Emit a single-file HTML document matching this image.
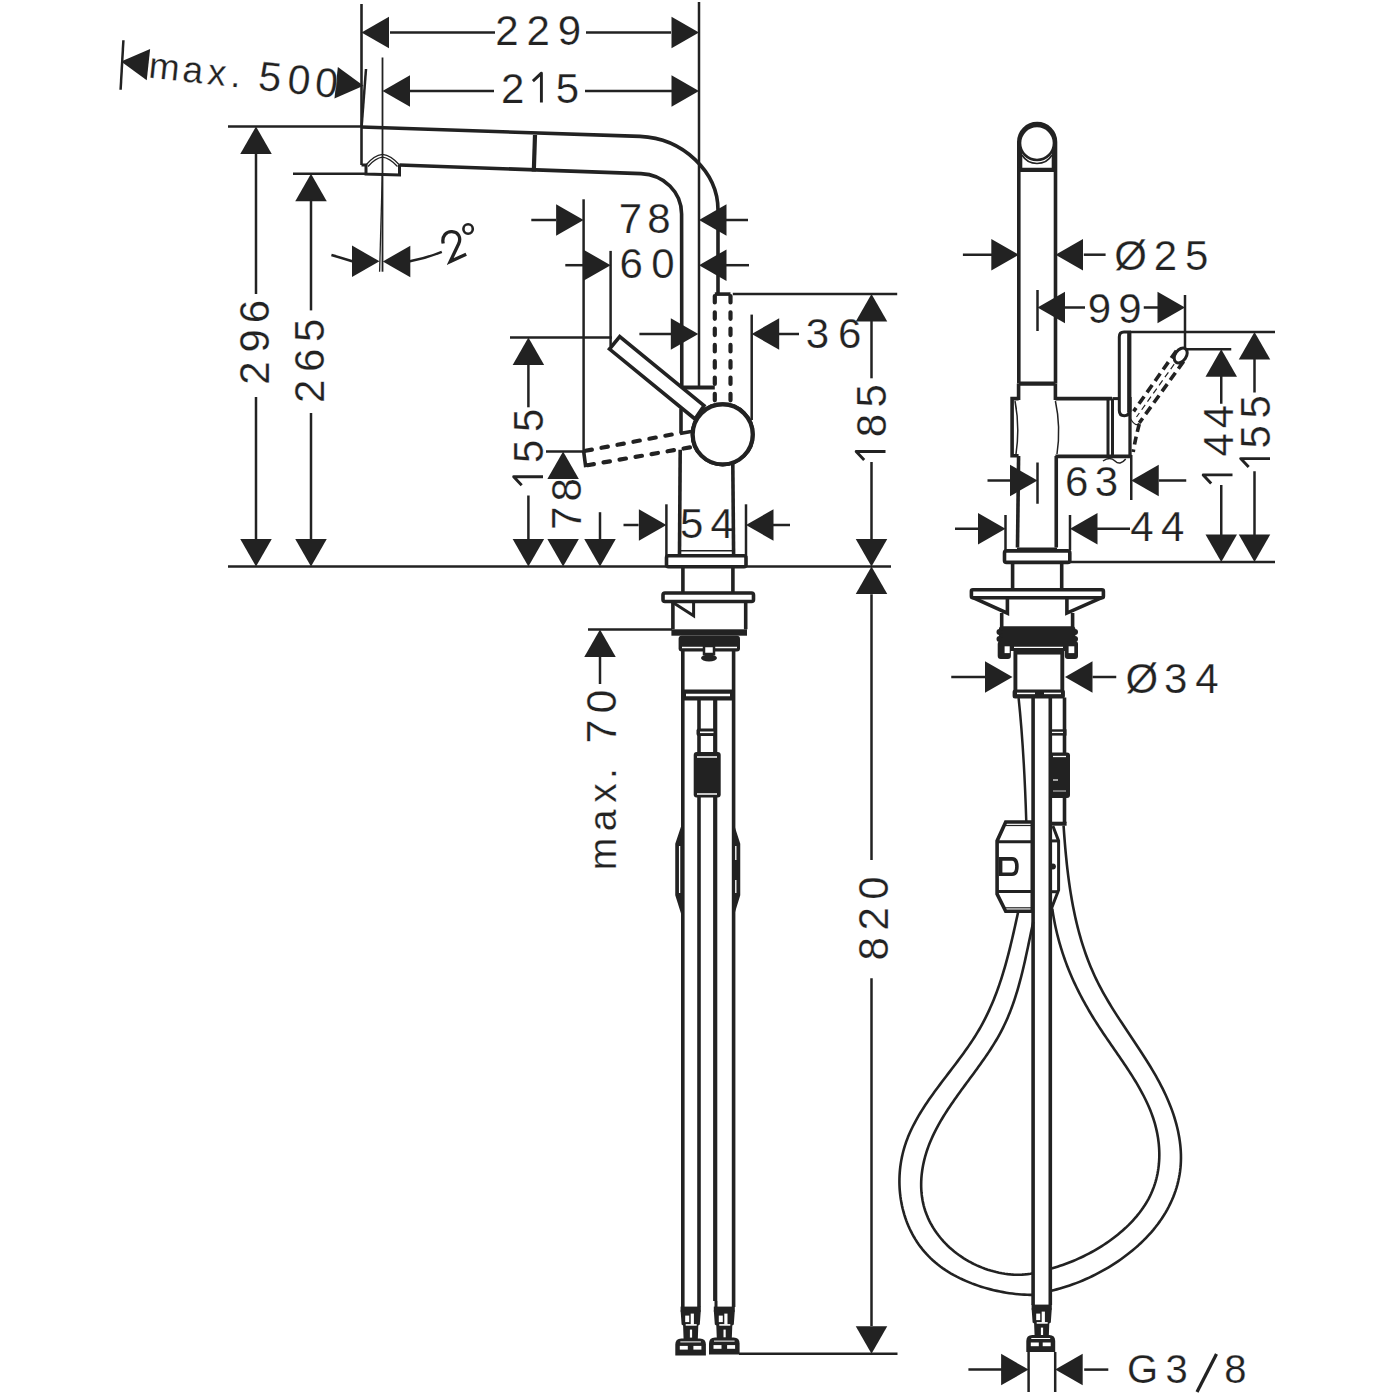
<!DOCTYPE html>
<html><head><meta charset="utf-8"><style>
html,body{margin:0;padding:0;background:#fff;width:1400px;height:1400px;overflow:hidden}
svg{display:block}
text{font-family:"Liberation Sans",sans-serif;fill:#222;stroke:#fff;stroke-width:0.25px}
</style></head><body>
<svg width="1400" height="1400" viewBox="0 0 1400 1400" stroke="#222" fill="none" stroke-linecap="butt">
<line x1="228.00" y1="566.40" x2="891.00" y2="566.40" stroke-width="2.5"/>
<line x1="361.50" y1="4.00" x2="361.50" y2="165.00" stroke-width="2.6"/>
<line x1="699.00" y1="2.00" x2="699.00" y2="387.00" stroke-width="2.5"/>
<line x1="390.00" y1="32.50" x2="495.00" y2="32.50" stroke-width="2.5"/>
<line x1="586.00" y1="32.50" x2="671.00" y2="32.50" stroke-width="2.5"/>
<polygon points="361.50,32.50 389.00,16.75 389.00,48.25" fill="#222" stroke="none"/>
<polygon points="699.00,32.50 671.50,48.25 671.50,16.75" fill="#222" stroke="none"/>
<text x="506.90" y="44.50" font-size="42" text-anchor="middle">2</text><text x="538.10" y="44.50" font-size="42" text-anchor="middle">2</text><text x="569.40" y="44.50" font-size="42" text-anchor="middle">9</text>
<line x1="382.50" y1="57.50" x2="382.50" y2="271.70" stroke-width="1.8"/>
<line x1="409.00" y1="91.00" x2="494.00" y2="91.00" stroke-width="2.5"/>
<line x1="585.00" y1="91.00" x2="672.00" y2="91.00" stroke-width="2.5"/>
<polygon points="382.50,91.00 410.00,75.25 410.00,106.75" fill="#222" stroke="none"/>
<polygon points="699.00,91.00 671.50,106.75 671.50,75.25" fill="#222" stroke="none"/>
<text x="512.75" y="102.50" font-size="42" text-anchor="middle">2</text><path d="M541.40,102.50 L541.40,73.18 L532.90,81.18" stroke-width="2.9" fill="none" stroke-linejoin="round"/><text x="567.55" y="102.50" font-size="42" text-anchor="middle">5</text>
<line x1="123.40" y1="40.20" x2="120.60" y2="89.80" stroke-width="2.5"/>
<polygon points="121.10,61.60 150.14,48.91 146.74,80.23" fill="#222" stroke="none"/>
<polygon points="363.50,85.70 334.46,98.39 337.86,67.07" fill="#222" stroke="none"/>
<g transform="translate(163,79.2) rotate(6.2)"><text x="0.00" y="0.00" font-size="37" text-anchor="middle">m</text><text x="28.90" y="0.00" font-size="37" text-anchor="middle">a</text><text x="53.10" y="0.00" font-size="37" text-anchor="middle">x</text><text x="72.30" y="0.00" font-size="37" text-anchor="middle">.</text><text x="106.30" y="0.00" font-size="41" text-anchor="middle">5</text><text x="135.30" y="0.00" font-size="41" text-anchor="middle">0</text><text x="163.00" y="0.00" font-size="41" text-anchor="middle">0</text></g>
<line x1="366.00" y1="69.00" x2="361.60" y2="127.00" stroke-width="2.5"/>
<path d="M361.5,127 L640,136.4 C683,138.2 718,172 718,210 L718,294" stroke-width="3.6" fill="none" />
<path d="M399.5,165 L641,173.6 C664,174.6 681.6,192 681.6,214 L681.8,387.5" stroke-width="3.6" fill="none" />
<line x1="535.00" y1="135.00" x2="533.80" y2="171.50" stroke-width="4.2"/>
<path d="M361.5,165 L366,165 L366,174 L399.5,175 L399.5,165" stroke-width="3.0" fill="none" />
<path d="M365.5,165.5 Q374,155 382.5,154.3 Q391,155 400,165.5" stroke-width="1.3" fill="none" />
<path d="M368,166.5 Q375.5,158 382.5,157.2 Q389.5,158 397.5,166.5" stroke-width="1.3" fill="none" />
<line x1="228.00" y1="126.60" x2="361.50" y2="126.60" stroke-width="2.5"/>
<line x1="293.00" y1="173.80" x2="366.00" y2="173.80" stroke-width="2.5"/>
<polygon points="256.00,126.60 271.75,154.10 240.25,154.10" fill="#222" stroke="none"/>
<line x1="256.00" y1="153.00" x2="256.00" y2="294.00" stroke-width="2.5"/>
<g transform="translate(268.70,0) rotate(-90)"><text x="-373.00" y="0" font-size="42" text-anchor="middle">2</text><text x="-340.90" y="0" font-size="42" text-anchor="middle">9</text><text x="-311.64" y="0" font-size="42" text-anchor="middle">6</text></g>
<line x1="256.00" y1="397.00" x2="256.00" y2="540.00" stroke-width="2.5"/>
<polygon points="256.00,566.40 240.25,538.90 271.75,538.90" fill="#222" stroke="none"/>
<polygon points="311.00,173.80 326.75,201.30 295.25,201.30" fill="#222" stroke="none"/>
<line x1="311.00" y1="199.70" x2="311.00" y2="310.40" stroke-width="2.5"/>
<g transform="translate(324.10,0) rotate(-90)"><text x="-391.30" y="0" font-size="42" text-anchor="middle">2</text><text x="-360.44" y="0" font-size="42" text-anchor="middle">6</text><text x="-330.35" y="0" font-size="42" text-anchor="middle">5</text></g>
<line x1="311.00" y1="413.00" x2="311.00" y2="540.00" stroke-width="2.5"/>
<polygon points="311.00,566.40 295.25,538.90 326.75,538.90" fill="#222" stroke="none"/>
<line x1="382.30" y1="174.00" x2="379.60" y2="271.70" stroke-width="1.3"/>
<polygon points="379.50,261.30 352.00,277.05 352.00,245.55" fill="#222" stroke="none"/>
<polygon points="382.80,261.50 410.30,245.75 410.30,277.25" fill="#222" stroke="none"/>
<path d="M331.4,255 Q342,258 352.2,261.3" stroke-width="2.5" fill="none" />
<path d="M409.8,261.3 Q427,258 441.8,251.8" stroke-width="2.5" fill="none" />
<path d="M443.2,243.5 C441.5,236 446.5,231.2 452,231.6 C458.5,232 461.2,237.5 458.8,243.5 L450.2,261.5 L466.2,254.2" stroke-width="3.3" fill="none" />
<circle cx="468.1" cy="229" r="4.7" fill="none" stroke-width="2.6"/>
<line x1="583.60" y1="199.30" x2="583.60" y2="451.00" stroke-width="2.5"/>
<line x1="531.30" y1="220.00" x2="556.00" y2="220.00" stroke-width="2.5"/>
<polygon points="583.60,220.00 556.10,235.75 556.10,204.25" fill="#222" stroke="none"/>
<polygon points="699.00,220.00 726.50,204.25 726.50,235.75" fill="#222" stroke="none"/>
<line x1="724.30" y1="220.00" x2="748.00" y2="220.00" stroke-width="2.5"/>
<text x="630.38" y="233.00" font-size="42" text-anchor="middle">7</text><text x="659.00" y="233.00" font-size="42" text-anchor="middle">8</text>
<line x1="610.60" y1="250.90" x2="610.60" y2="346.00" stroke-width="2.5"/>
<line x1="565.30" y1="265.20" x2="583.00" y2="265.20" stroke-width="2.5"/>
<polygon points="610.60,265.20 583.10,280.95 583.10,249.45" fill="#222" stroke="none"/>
<polygon points="699.00,265.20 726.50,249.45 726.50,280.95" fill="#222" stroke="none"/>
<line x1="725.70" y1="265.20" x2="749.00" y2="265.20" stroke-width="2.5"/>
<text x="631.26" y="278.00" font-size="42" text-anchor="middle">6</text><text x="662.90" y="278.00" font-size="42" text-anchor="middle">0</text>
<line x1="639.40" y1="334.00" x2="672.00" y2="334.00" stroke-width="2.5"/>
<polygon points="698.30,334.00 670.80,349.75 670.80,318.25" fill="#222" stroke="none"/>
<polygon points="751.70,334.00 779.20,318.25 779.20,349.75" fill="#222" stroke="none"/>
<line x1="779.00" y1="334.00" x2="799.00" y2="334.00" stroke-width="2.5"/>
<line x1="751.70" y1="314.60" x2="751.70" y2="420.00" stroke-width="2.5"/>
<text x="817.33" y="348.00" font-size="42" text-anchor="middle">3</text><text x="849.76" y="348.00" font-size="42" text-anchor="middle">6</text>
<line x1="510.00" y1="337.60" x2="612.00" y2="337.60" stroke-width="2.5"/>
<polygon points="528.40,337.60 544.15,365.10 512.65,365.10" fill="#222" stroke="none"/>
<line x1="528.40" y1="363.60" x2="528.40" y2="407.30" stroke-width="2.5"/>
<g transform="translate(543.00,0) rotate(-90)"><path d="M-476.80,0.00 L-476.80,-29.32 L-485.30,-21.32" stroke-width="2.9" fill="none" stroke-linejoin="round"/><text x="-451.35" y="0" font-size="42" text-anchor="middle">5</text><text x="-420.25" y="0" font-size="42" text-anchor="middle">5</text></g>
<line x1="528.40" y1="495.50" x2="528.40" y2="540.00" stroke-width="2.5"/>
<polygon points="528.40,566.40 512.65,538.90 544.15,538.90" fill="#222" stroke="none"/>
<line x1="546.00" y1="451.40" x2="584.00" y2="451.40" stroke-width="2.5"/>
<polygon points="563.10,451.40 578.85,478.90 547.35,478.90" fill="#222" stroke="none"/>
<polygon points="563.10,566.40 547.35,538.90 578.85,538.90" fill="#222" stroke="none"/>
<g transform="translate(580.80,0) rotate(-90)"><text x="-518.22" y="0" font-size="42" text-anchor="middle">7</text><text x="-489.90" y="0" font-size="42" text-anchor="middle">8</text></g>
<line x1="600.00" y1="512.20" x2="600.00" y2="540.00" stroke-width="2.5"/>
<polygon points="600.00,566.40 584.25,538.90 615.75,538.90" fill="#222" stroke="none"/>
<polygon points="600.00,629.60 615.75,657.10 584.25,657.10" fill="#222" stroke="none"/>
<line x1="600.00" y1="656.00" x2="600.00" y2="684.00" stroke-width="2.5"/>
<line x1="588.00" y1="629.60" x2="672.00" y2="629.60" stroke-width="2.5"/>
<g transform="translate(616,854) rotate(-90)"><text x="0.00" y="0.00" font-size="39" text-anchor="middle">m</text><text x="33.50" y="0.00" font-size="39" text-anchor="middle">a</text><text x="61.00" y="0.00" font-size="39" text-anchor="middle">x</text><text x="80.50" y="0.00" font-size="39" text-anchor="middle">.</text><text x="122.50" y="0.00" font-size="43" text-anchor="middle">7</text><text x="152.50" y="0.00" font-size="43" text-anchor="middle">0</text></g>
<line x1="732.80" y1="294.10" x2="897.20" y2="294.10" stroke-width="2.5"/>
<polygon points="871.50,294.10 887.25,321.60 855.75,321.60" fill="#222" stroke="none"/>
<line x1="871.50" y1="320.00" x2="871.50" y2="378.30" stroke-width="2.5"/>
<g transform="translate(885.50,0) rotate(-90)"><path d="M-451.50,0.00 L-451.50,-29.32 L-460.00,-21.32" stroke-width="2.9" fill="none" stroke-linejoin="round"/><text x="-425.60" y="0" font-size="42" text-anchor="middle">8</text><text x="-395.85" y="0" font-size="42" text-anchor="middle">5</text></g>
<line x1="871.50" y1="462.00" x2="871.50" y2="541.00" stroke-width="2.5"/>
<polygon points="871.50,566.40 855.75,538.90 887.25,538.90" fill="#222" stroke="none"/>
<polygon points="871.50,566.40 887.25,593.90 855.75,593.90" fill="#222" stroke="none"/>
<line x1="871.50" y1="594.30" x2="871.50" y2="860.00" stroke-width="2.5"/>
<g transform="translate(887.70,0) rotate(-90)"><text x="-948.90" y="0" font-size="42" text-anchor="middle">8</text><text x="-918.90" y="0" font-size="42" text-anchor="middle">2</text><text x="-888.00" y="0" font-size="42" text-anchor="middle">0</text></g>
<line x1="871.50" y1="978.30" x2="871.50" y2="1326.00" stroke-width="2.5"/>
<polygon points="871.50,1353.75 855.75,1326.25 887.25,1326.25" fill="#222" stroke="none"/>
<line x1="739.00" y1="1353.75" x2="897.50" y2="1353.75" stroke-width="2.5"/>
<line x1="666.40" y1="504.30" x2="666.40" y2="557.00" stroke-width="2.5"/>
<line x1="746.00" y1="504.30" x2="746.00" y2="557.00" stroke-width="2.5"/>
<line x1="623.50" y1="525.00" x2="638.60" y2="525.00" stroke-width="2.5"/>
<polygon points="666.40,525.00 638.90,540.75 638.90,509.25" fill="#222" stroke="none"/>
<polygon points="746.00,525.00 773.50,509.25 773.50,540.75" fill="#222" stroke="none"/>
<line x1="772.00" y1="525.00" x2="790.00" y2="525.00" stroke-width="2.5"/>
<text x="691.75" y="538.00" font-size="42" text-anchor="middle">5</text><text x="722.13" y="538.00" font-size="42" text-anchor="middle">4</text>
<line x1="681.80" y1="387.50" x2="714.80" y2="387.50" stroke-width="4.2"/>
<line x1="714.80" y1="294.10" x2="730.50" y2="294.10" stroke-width="3.6"/>
<g stroke-dasharray="6.5 9.8" stroke-linecap="round">
<line x1="714.80" y1="296.00" x2="714.80" y2="404.00" stroke-width="4.2"/>
<line x1="730.50" y1="296.00" x2="730.50" y2="404.00" stroke-width="4.2"/>
</g>
<circle cx="722.7" cy="434.4" r="30" fill="#fff" stroke-width="4.2"/>
<polygon points="619.70,336.60 609.50,349.10 695.00,419.00 704.00,405.70" stroke-width="3.6" fill="#fff" />
<circle cx="722.7" cy="434.4" r="30" fill="#fff" stroke-width="4.2"/>
<polyline points="681.00,408.80 681.00,433.50" stroke-width="3.6" fill="none" />
<g stroke-dasharray="6.5 9.75" stroke-linecap="round">
<line x1="585.50" y1="450.80" x2="675.00" y2="433.90" stroke-width="4.2"/>
<line x1="587.50" y1="465.20" x2="692.90" y2="446.90" stroke-width="4.2"/>
</g>
<line x1="680.00" y1="433.50" x2="691.20" y2="431.60" stroke-width="3.6"/>
<polyline points="583.60,450.80 585.50,465.50 590.00,464.70" stroke-width="3.6" fill="none" />
<line x1="680.20" y1="449.70" x2="679.50" y2="554.00" stroke-width="3.6"/>
<line x1="732.80" y1="464.00" x2="733.60" y2="554.00" stroke-width="3.6"/>
<line x1="680.00" y1="550.70" x2="733.00" y2="550.70" stroke-width="1.5"/>
<rect x="666.5" y="555.7" width="79.5" height="11" rx="2" fill="none" stroke-width="3.6"/>
<line x1="682.90" y1="567.00" x2="682.90" y2="592.90" stroke-width="3.6"/>
<line x1="732.90" y1="567.00" x2="732.90" y2="592.90" stroke-width="3.6"/>
<rect x="663" y="593" width="90.5" height="8.5" rx="2" fill="none" stroke-width="3.6"/>
<line x1="672.90" y1="601.40" x2="672.90" y2="629.30" stroke-width="3.6"/>
<line x1="745.70" y1="601.40" x2="745.70" y2="629.30" stroke-width="3.6"/>
<polyline points="671.40,601.40 693.60,615.70 693.60,601.40" stroke-width="3.0" fill="none" />
<rect x="671.4" y="629.3" width="75.6" height="6.4" fill="#222" stroke="none"/>
<rect x="678.6" y="635.7" width="61.4" height="15.7" rx="3" fill="#222" stroke="none"/>
<line x1="682.00" y1="647.50" x2="737.00" y2="647.50" stroke-width="1.5"/>
<g stroke="#fff">
<line x1="682.00" y1="647.50" x2="737.00" y2="647.50" stroke-width="1.5"/>
</g>
<rect x="704" y="646" width="10" height="8" fill="#fff" stroke="#222" stroke-width="2.5"/>
<ellipse cx="709" cy="658" rx="8" ry="3.5" fill="#222" stroke="none"/>
<line x1="682.80" y1="651.00" x2="682.80" y2="1307.00" stroke-width="3.6"/>
<line x1="733.60" y1="651.00" x2="733.60" y2="1307.00" stroke-width="3.6"/>
<rect x="682" y="689.5" width="52" height="11" fill="#222" stroke="none"/>
<g stroke="#fff">
<line x1="686.00" y1="695.00" x2="730.00" y2="695.00" stroke-width="2.5"/>
</g>
<line x1="699.00" y1="700.00" x2="699.00" y2="1307.00" stroke-width="3.6"/>
<line x1="715.20" y1="700.00" x2="715.20" y2="1301.00" stroke-width="4.2"/>
<line x1="716.00" y1="1301.00" x2="716.00" y2="1307.00" stroke-width="3.0"/>
<rect x="696.5" y="728.5" width="20.5" height="7.5" rx="2" fill="#222" stroke="none"/>
<g stroke="#fff">
<line x1="700.00" y1="732.30" x2="713.50" y2="732.30" stroke-width="1.6"/>
</g>
<rect x="693.7" y="752" width="27" height="45.6" rx="3" fill="#222" stroke="none"/>
<g stroke="#fff">
<line x1="697.00" y1="757.00" x2="717.00" y2="757.00" stroke-width="1.5"/>
<line x1="697.00" y1="794.00" x2="717.00" y2="794.00" stroke-width="1.5"/>
</g>
<polygon points="682.20,827.00 676.50,844.00 676.50,895.00 682.20,913.00" stroke-width="2.5" fill="#222" />
<polygon points="733.50,827.00 739.00,844.00 739.00,895.00 733.50,913.00" stroke-width="2.5" fill="#222" />
<g stroke="#fff">
<line x1="679.60" y1="846.00" x2="679.60" y2="893.00" stroke-width="1.3"/>
<line x1="735.80" y1="846.00" x2="735.80" y2="860.00" stroke-width="1.3"/>
<line x1="735.80" y1="880.00" x2="735.80" y2="893.00" stroke-width="1.3"/>
</g>
<rect x="680.6" y="1306.6" width="20.199999999999932" height="5" fill="#222" stroke="none"/>
<path d="M680.6,1310.6 L700.8,1310.6 L699.8,1324.6 L698.3,1325.6 L697.8,1339.4 L683.6,1339.4 L683.1,1325.6 L681.6,1324.6 Z" fill="#222" stroke="none"/>
<rect x="685.2" y="1315.6" width="4" height="6.5" fill="#fff" stroke="none"/>
<rect x="690.7" y="1313.6" width="3.2" height="11" fill="#fff" stroke="none"/>
<rect x="685.7" y="1324.1" width="11" height="1.6" fill="#fff" stroke="none"/>
<rect x="689.9000000000001" y="1329.6" width="2.2" height="8" fill="#fff" stroke="none"/>
<path d="M675.3,1355.4 L675.3,1344.4 Q675.3,1338.4 681.3,1338.4 L699.9,1338.4 Q705.9,1338.4 705.9,1344.4 L705.9,1355.4 Z" fill="#222" stroke="none"/>
<rect x="679.8" y="1345.9" width="8" height="3.7" fill="#fff" stroke="none"/>
<rect x="693.4" y="1345.9" width="8" height="3.7" fill="#fff" stroke="none"/>
<rect x="680.3" y="1341.4" width="20.600000000000023" height="1" fill="#fff" stroke="none"/>
<rect x="713.8" y="1306.6" width="21.0" height="5" fill="#222" stroke="none"/>
<path d="M713.8,1310.6 L734.8,1310.6 L733.8,1324.6 L732.3,1325.6 L731.8,1338.6 L716.8,1338.6 L716.3,1325.6 L714.8,1324.6 Z" fill="#222" stroke="none"/>
<rect x="718.8" y="1315.6" width="4" height="6.5" fill="#fff" stroke="none"/>
<rect x="724.3" y="1313.6" width="3.2" height="11" fill="#fff" stroke="none"/>
<rect x="719.3" y="1324.1" width="11" height="1.6" fill="#fff" stroke="none"/>
<rect x="723.5" y="1329.6" width="2.2" height="8" fill="#fff" stroke="none"/>
<path d="M709.0,1354.6 L709.0,1343.6 Q709.0,1337.6 715.0,1337.6 L733.6,1337.6 Q739.6,1337.6 739.6,1343.6 L739.6,1354.6 Z" fill="#222" stroke="none"/>
<rect x="713.5" y="1345.1" width="8" height="3.7" fill="#fff" stroke="none"/>
<rect x="727.1" y="1345.1" width="8" height="3.7" fill="#fff" stroke="none"/>
<rect x="714.0" y="1340.6" width="20.600000000000023" height="1" fill="#fff" stroke="none"/>
<line x1="1068.75" y1="562.00" x2="1275.00" y2="562.00" stroke-width="2.5"/>
<path d="M1018.8,383.6 L1018.8,141.9 A18.35,18.35 0 0 1 1055.5,141.9 L1055.5,383.6" stroke-width="3.6" fill="none" />
<circle cx="1037" cy="143" r="17" fill="none" stroke-width="2.6"/>
<path d="M1022,155 A17.5,17.5 0 0 0 1052,155" stroke-width="1.6" fill="none" />
<line x1="1021.00" y1="150.00" x2="1021.00" y2="169.00" stroke-width="2.6"/>
<line x1="1053.00" y1="150.00" x2="1053.00" y2="169.00" stroke-width="2.6"/>
<line x1="1018.80" y1="169.80" x2="1055.50" y2="169.80" stroke-width="4.2"/>
<line x1="1018.80" y1="383.60" x2="1055.40" y2="383.60" stroke-width="4.2"/>
<line x1="962.90" y1="254.70" x2="994.40" y2="254.70" stroke-width="2.5"/>
<polygon points="1018.80,254.70 991.30,270.45 991.30,238.95" fill="#222" stroke="none"/>
<polygon points="1055.50,254.70 1083.00,238.95 1083.00,270.45" fill="#222" stroke="none"/>
<line x1="1083.80" y1="254.70" x2="1105.60" y2="254.70" stroke-width="2.5"/>
<text x="1130.48" y="270.00" font-size="42" text-anchor="middle">Ø</text><text x="1165.50" y="270.00" font-size="42" text-anchor="middle">2</text><text x="1196.80" y="270.00" font-size="42" text-anchor="middle">5</text>
<line x1="1037.50" y1="290.00" x2="1037.50" y2="331.00" stroke-width="2.5"/>
<polygon points="1037.50,307.50 1065.00,291.75 1065.00,323.25" fill="#222" stroke="none"/>
<line x1="1063.75" y1="307.50" x2="1085.00" y2="307.50" stroke-width="2.5"/>
<text x="1099.40" y="322.50" font-size="42" text-anchor="middle">9</text><text x="1130.00" y="322.50" font-size="42" text-anchor="middle">9</text>
<line x1="1143.75" y1="307.50" x2="1158.75" y2="307.50" stroke-width="2.5"/>
<polygon points="1185.00,307.50 1157.50,323.25 1157.50,291.75" fill="#222" stroke="none"/>
<line x1="1185.00" y1="295.00" x2="1185.00" y2="350.00" stroke-width="2.5"/>
<line x1="1130.00" y1="332.00" x2="1275.00" y2="332.00" stroke-width="2.5"/>
<line x1="1185.00" y1="349.25" x2="1231.25" y2="349.25" stroke-width="2.5"/>
<polygon points="1221.25,349.25 1237.00,376.75 1205.50,376.75" fill="#222" stroke="none"/>
<line x1="1221.25" y1="375.00" x2="1221.25" y2="403.75" stroke-width="2.5"/>
<g transform="translate(1232.50,0) rotate(-90)"><path d="M-474.90,0.00 L-474.90,-29.32 L-483.40,-21.32" stroke-width="2.9" fill="none" stroke-linejoin="round"/><text x="-444.87" y="0" font-size="42" text-anchor="middle">4</text><text x="-416.62" y="0" font-size="42" text-anchor="middle">4</text></g>
<line x1="1221.25" y1="485.00" x2="1221.25" y2="536.25" stroke-width="2.5"/>
<polygon points="1221.25,562.00 1205.50,534.50 1237.00,534.50" fill="#222" stroke="none"/>
<polygon points="1254.50,332.00 1270.25,359.50 1238.75,359.50" fill="#222" stroke="none"/>
<line x1="1254.50" y1="358.75" x2="1254.50" y2="392.50" stroke-width="2.5"/>
<g transform="translate(1270.00,0) rotate(-90)"><path d="M-458.60,0.00 L-458.60,-29.32 L-467.10,-21.32" stroke-width="2.9" fill="none" stroke-linejoin="round"/><text x="-436.85" y="0" font-size="42" text-anchor="middle">5</text><text x="-406.70" y="0" font-size="42" text-anchor="middle">5</text></g>
<line x1="1254.50" y1="471.25" x2="1254.50" y2="536.25" stroke-width="2.5"/>
<polygon points="1254.50,562.00 1238.75,534.50 1270.25,534.50" fill="#222" stroke="none"/>
<line x1="1055.40" y1="398.60" x2="1112.00" y2="398.60" stroke-width="3.8"/>
<line x1="1055.40" y1="456.40" x2="1131.40" y2="456.40" stroke-width="3.8"/>
<line x1="1108.00" y1="398.60" x2="1108.00" y2="456.40" stroke-width="3.0"/>
<line x1="1112.50" y1="398.60" x2="1112.50" y2="456.40" stroke-width="3.0"/>
<line x1="1112.50" y1="398.60" x2="1120.00" y2="398.60" stroke-width="3.0"/>
<line x1="1130.00" y1="397.00" x2="1130.00" y2="456.40" stroke-width="3.3"/>
<path d="M1119.3,337 Q1119.3,332.1 1124,332.1 L1129.3,332.1 L1129.3,410.5 Q1129.3,415.7 1124.3,415.7 Q1119.3,415.7 1119.3,410.5 Z" stroke-width="3.0" fill="#fff" />
<line x1="1129.30" y1="333.00" x2="1129.30" y2="412.00" stroke-width="4.2"/>
<g stroke-dasharray="9 5">
<line x1="1176.40" y1="350.70" x2="1133.60" y2="411.40" stroke-width="3.6"/>
<line x1="1183.60" y1="361.40" x2="1139.30" y2="422.90" stroke-width="3.6"/>
</g>
<g stroke-dasharray="6 4">
<line x1="1180.00" y1="356.00" x2="1136.50" y2="417.00" stroke-width="1.2"/>
</g>
<ellipse cx="1180.7" cy="355.5" rx="5.5" ry="8.2" fill="#fff" stroke-width="3.0" transform="rotate(35 1180.7 355.5)"/>
<g stroke-dasharray="8 5">
<path d="M1139.3,424 Q1135.5,438 1133.2,452" stroke-width="3.6" fill="none" />
</g>
<path d="M1130,418 Q1136,428 1139.3,423" stroke-width="1.2" fill="none" />
<path d="M1103,461 Q1110,456 1115,461 Q1120,466 1125.7,459" stroke-width="1.5" fill="none" />
<path d="M1018.6,398.6 L1012.1,398.6 L1012.1,455.7 L1018.6,455.7" stroke-width="3.6" fill="none" />
<path d="M1015,401 Q1020,427 1016,454" stroke-width="1.5" fill="none" />
<path d="M1055.4,401 Q1061,427 1057,454" stroke-width="1.5" fill="none" />
<line x1="1018.60" y1="383.60" x2="1018.60" y2="400.00" stroke-width="3.6"/>
<line x1="1055.40" y1="383.60" x2="1055.40" y2="400.00" stroke-width="3.6"/>
<line x1="1018.60" y1="456.00" x2="1017.50" y2="547.50" stroke-width="3.6"/>
<line x1="1056.25" y1="456.00" x2="1056.25" y2="547.50" stroke-width="3.6"/>
<line x1="1037.50" y1="462.50" x2="1037.50" y2="503.75" stroke-width="2.5"/>
<line x1="987.50" y1="480.50" x2="1011.25" y2="480.50" stroke-width="2.5"/>
<polygon points="1037.50,480.50 1010.00,496.25 1010.00,464.75" fill="#222" stroke="none"/>
<text x="1076.76" y="496.25" font-size="42" text-anchor="middle">6</text><text x="1106.38" y="496.25" font-size="42" text-anchor="middle">3</text>
<line x1="1131.25" y1="455.00" x2="1131.25" y2="500.00" stroke-width="2.5"/>
<polygon points="1131.25,480.50 1158.75,464.75 1158.75,496.25" fill="#222" stroke="none"/>
<line x1="1158.75" y1="480.50" x2="1186.25" y2="480.50" stroke-width="2.5"/>
<line x1="1005.50" y1="515.00" x2="1005.50" y2="550.00" stroke-width="2.5"/>
<line x1="1070.00" y1="515.00" x2="1070.00" y2="550.00" stroke-width="2.5"/>
<line x1="955.00" y1="528.75" x2="980.00" y2="528.75" stroke-width="2.5"/>
<polygon points="1005.50,528.75 978.00,544.50 978.00,513.00" fill="#222" stroke="none"/>
<polygon points="1070.00,528.75 1097.50,513.00 1097.50,544.50" fill="#222" stroke="none"/>
<line x1="1096.25" y1="528.75" x2="1130.00" y2="528.75" stroke-width="2.5"/>
<text x="1142.03" y="541.25" font-size="42" text-anchor="middle">4</text><text x="1172.63" y="541.25" font-size="42" text-anchor="middle">4</text>
<rect x="1004.5" y="550.9" width="65.3" height="11.5" rx="2" fill="none" stroke-width="3.6"/>
<line x1="1017.00" y1="548.30" x2="1057.00" y2="548.30" stroke-width="1.5"/>
<line x1="1012.60" y1="563.00" x2="1012.60" y2="590.00" stroke-width="3.6"/>
<line x1="1061.70" y1="563.00" x2="1061.70" y2="590.00" stroke-width="3.6"/>
<rect x="971.4" y="589.7" width="132" height="8" rx="1.5" fill="none" stroke-width="3.6"/>
<polyline points="973.00,597.70 1007.40,613.10 1007.40,597.70" stroke-width="3.6" fill="none" />
<polyline points="1101.80,597.70 1066.90,613.10 1066.90,597.70" stroke-width="3.6" fill="none" />
<line x1="1001.70" y1="613.00" x2="1001.70" y2="627.00" stroke-width="3.6"/>
<line x1="1072.60" y1="613.00" x2="1072.60" y2="627.00" stroke-width="3.6"/>
<rect x="998.9" y="626.3" width="76.5" height="16.7" rx="3" fill="#222" stroke="none"/>
<circle cx="999.5" cy="632" r="3" fill="#222" stroke="none"/><circle cx="999.5" cy="639" r="3" fill="#222" stroke="none"/>
<circle cx="1075" cy="632" r="3" fill="#222" stroke="none"/><circle cx="1075" cy="639" r="3" fill="#222" stroke="none"/>
<rect x="997.7" y="641" width="13.2" height="18" rx="3" fill="#222" stroke="none"/>
<rect x="1064.8" y="641" width="13.2" height="18" rx="3" fill="#222" stroke="none"/>
<rect x="1004.6" y="646.3" width="5.1" height="6.8" fill="#fff" stroke="none"/>
<rect x="1068.6" y="646.3" width="5.7" height="6.8" fill="#fff" stroke="none"/>
<rect x="1010" y="642" width="56" height="9" fill="#222" stroke="none"/>
<g stroke="#fff">
<line x1="1014.00" y1="647.40" x2="1063.00" y2="647.40" stroke-width="1.4"/>
</g>
<rect x="1015.4" y="652.6" width="46.9" height="43" fill="none" stroke-width="3.9"/>
<rect x="1012.6" y="689.5" width="52.3" height="9.1" rx="2.5" fill="#222" stroke="none"/>
<g stroke="#fff">
<line x1="1017.00" y1="693.40" x2="1035.00" y2="693.40" stroke-width="1.5"/>
<line x1="1044.00" y1="693.40" x2="1061.00" y2="693.40" stroke-width="1.5"/>
</g>
<line x1="951.25" y1="677.00" x2="986.25" y2="677.00" stroke-width="2.5"/>
<polygon points="1012.50,677.00 985.00,692.75 985.00,661.25" fill="#222" stroke="none"/>
<polygon points="1065.00,677.00 1092.50,661.25 1092.50,692.75" fill="#222" stroke="none"/>
<line x1="1092.50" y1="677.00" x2="1116.25" y2="677.00" stroke-width="2.5"/>
<text x="1141.88" y="692.50" font-size="42" text-anchor="middle">Ø</text><text x="1175.73" y="692.50" font-size="42" text-anchor="middle">3</text><text x="1207.03" y="692.50" font-size="42" text-anchor="middle">4</text>
<line x1="1033.10" y1="697.50" x2="1033.10" y2="1305.00" stroke-width="3.6"/>
<line x1="1050.30" y1="697.50" x2="1050.30" y2="1305.00" stroke-width="3.6"/>
<line x1="1064.50" y1="697.50" x2="1064.50" y2="823.00" stroke-width="3.6"/>
<rect x="1049" y="729.3" width="17.5" height="6.3" fill="#222" stroke="none"/>
<g stroke="#fff">
<line x1="1052.00" y1="732.40" x2="1063.00" y2="732.40" stroke-width="1.3"/>
</g>
<rect x="1049" y="752.6" width="21" height="45.4" rx="3" fill="#222" stroke="none"/>
<g stroke="#fff">
<line x1="1053.00" y1="756.50" x2="1066.00" y2="756.50" stroke-width="1.3"/>
<line x1="1053.00" y1="780.00" x2="1058.00" y2="780.00" stroke-width="1.2"/>
<line x1="1053.00" y1="791.00" x2="1066.00" y2="791.00" stroke-width="0.8"/>
</g>
<rect x="1049" y="821.7" width="17.6" height="4" fill="#222" stroke="none"/>
<path d="M1018.6,698 C1022,730 1025,780 1026.3,822" stroke-width="2.5" fill="none" />
<path d="M1005.7,822 L1032.3,822 L1032.3,911.2 L1005.7,911.2 L997.1,894 L997.1,841 Z" stroke-width="3.6" fill="#fff" />
<line x1="1004.00" y1="825.50" x2="1032.30" y2="825.50" stroke-width="1.2"/>
<line x1="1004.00" y1="907.80" x2="1032.30" y2="907.80" stroke-width="1.2"/>
<line x1="997.10" y1="841.70" x2="1032.30" y2="841.70" stroke-width="3.0"/>
<line x1="997.10" y1="891.40" x2="1032.30" y2="891.40" stroke-width="3.0"/>
<path d="M1000.6,858.9 L1012,858.9 Q1016.9,858.9 1016.9,866.6 Q1016.9,874.3 1012,874.3 L1000.6,874.3 Z" fill="none" stroke-width="3.6"/>
<polyline points="1052.90,826.00 1058.60,840.90 1058.60,890.00 1051.10,909.40" stroke-width="3.0" fill="none" />
<line x1="1050.30" y1="840.90" x2="1058.60" y2="840.90" stroke-width="3.0"/>
<line x1="1050.30" y1="891.70" x2="1058.60" y2="891.70" stroke-width="3.0"/>
<circle cx="1052.9" cy="866.6" r="3" fill="#222" stroke="none"/>
<path d="M1017.96,912.81 L1017.28,915.92 L1016.60,919.02 L1015.92,922.11 L1015.24,925.19 L1014.55,928.27 L1013.86,931.34 L1013.16,934.40 L1012.45,937.46 L1011.74,940.50 L1011.01,943.54 L1010.27,946.57 L1009.53,949.59 L1008.76,952.60 L1007.99,955.60 L1007.19,958.60 L1006.38,961.58 L1005.56,964.55 L1004.71,967.52 L1003.85,970.47 L1002.96,973.41 L1002.05,976.35 L1001.12,979.27 L1000.16,982.18 L999.17,985.08 L998.16,987.96 L997.13,990.84 L996.06,993.70 L994.96,996.56 L993.83,999.40 L992.67,1002.22 L991.48,1005.04 L990.25,1007.84 L988.99,1010.63 L987.68,1013.40 L986.35,1016.16 L984.97,1018.91 L983.55,1021.64 L982.09,1024.36 L980.58,1027.06 L979.04,1029.75 L977.45,1032.43 L975.81,1035.09 L974.14,1037.74 L972.43,1040.37 L970.68,1043.00 L968.90,1045.61 L967.09,1048.21 L965.26,1050.81 L963.40,1053.39 L961.52,1055.97 L959.62,1058.54 L957.71,1061.11 L955.78,1063.67 L953.84,1066.23 L951.90,1068.79 L949.95,1071.35 L948.00,1073.90 L946.05,1076.46 L944.11,1079.01 L942.17,1081.57 L940.24,1084.13 L938.32,1086.70 L936.42,1089.27 L934.54,1091.84 L932.67,1094.42 L930.83,1097.01 L929.02,1099.61 L927.23,1102.22 L925.48,1104.83 L923.76,1107.46 L922.08,1110.10 L920.43,1112.75 L918.83,1115.42 L917.28,1118.10 L915.77,1120.80 L914.31,1123.51 L912.91,1126.24 L911.57,1128.99 L910.28,1131.76 L909.05,1134.54 L907.89,1137.35 L906.80,1140.18 L905.78,1143.04 L904.83,1145.91 L903.96,1148.82 L903.16,1151.74 L902.44,1154.69 L901.79,1157.65 L901.23,1160.63 L900.74,1163.63 L900.32,1166.63 L899.99,1169.65 L899.73,1172.68 L899.55,1175.71 L899.45,1178.74 L899.42,1181.78 L899.47,1184.81 L899.60,1187.84 L899.81,1190.87 L900.10,1193.89 L900.46,1196.90 L900.90,1199.89 L901.43,1202.88 L902.03,1205.84 L902.70,1208.79 L903.46,1211.72 L904.30,1214.62 L905.22,1217.50 L906.21,1220.35 L907.29,1223.18 L908.44,1225.97 L909.67,1228.73 L910.99,1231.45 L912.38,1234.13 L913.85,1236.77 L915.41,1239.37 L917.04,1241.93 L918.75,1244.44 L920.55,1246.90 L922.42,1249.30 L924.38,1251.66 L926.41,1253.96 L928.53,1256.20 L930.73,1258.38 L933.01,1260.50 L935.37,1262.55 L937.81,1264.54 L940.32,1266.47 L942.91,1268.32 L945.56,1270.12 L948.28,1271.85 L951.05,1273.51 L953.88,1275.11 L956.76,1276.65 L959.68,1278.12 L962.65,1279.53 L965.65,1280.87 L968.69,1282.16 L971.75,1283.38 L974.84,1284.53 L977.96,1285.63 L981.08,1286.66 L984.23,1287.63 L987.37,1288.53 L990.53,1289.38 L993.68,1290.16 L996.83,1290.88 L999.97,1291.55 L1003.10,1292.15 L1006.21,1292.69 L1009.30,1293.17 L1012.36,1293.58 L1015.40,1293.94 L1018.40,1294.24 L1021.36,1294.48 L1024.28,1294.66 L1027.16,1294.78 L1029.98,1294.84 L1032.75,1294.84" stroke-width="2.6" fill="none" stroke-linejoin="round"/>
<path d="M1033.26,921.81 L1032.65,924.64 L1032.05,927.47 L1031.45,930.30 L1030.86,933.12 L1030.27,935.95 L1029.68,938.76 L1029.09,941.58 L1028.50,944.39 L1027.91,947.20 L1027.31,950.00 L1026.71,952.80 L1026.11,955.59 L1025.49,958.38 L1024.87,961.16 L1024.24,963.94 L1023.60,966.71 L1022.95,969.47 L1022.28,972.22 L1021.60,974.97 L1020.90,977.71 L1020.18,980.44 L1019.45,983.17 L1018.70,985.88 L1017.93,988.59 L1017.13,991.28 L1016.31,993.97 L1015.47,996.64 L1014.60,999.31 L1013.70,1001.96 L1012.78,1004.61 L1011.83,1007.24 L1010.84,1009.86 L1009.82,1012.46 L1008.77,1015.06 L1007.69,1017.64 L1006.57,1020.21 L1005.41,1022.76 L1004.21,1025.30 L1002.98,1027.83 L1001.70,1030.34 L1000.38,1032.83 L999.03,1035.31 L997.63,1037.78 L996.20,1040.24 L994.73,1042.68 L993.23,1045.11 L991.70,1047.53 L990.14,1049.94 L988.56,1052.34 L986.95,1054.74 L985.33,1057.12 L983.68,1059.50 L982.01,1061.87 L980.33,1064.24 L978.63,1066.60 L976.93,1068.95 L975.21,1071.30 L973.49,1073.65 L971.76,1076.00 L970.02,1078.35 L968.29,1080.69 L966.55,1083.04 L964.82,1085.38 L963.10,1087.73 L961.38,1090.08 L959.67,1092.43 L957.97,1094.79 L956.28,1097.15 L954.61,1099.52 L952.96,1101.89 L951.32,1104.27 L949.71,1106.65 L948.12,1109.05 L946.55,1111.45 L945.02,1113.86 L943.51,1116.28 L942.03,1118.72 L940.59,1121.16 L939.18,1123.62 L937.81,1126.09 L936.48,1128.57 L935.19,1131.07 L933.94,1133.58 L932.74,1136.11 L931.59,1138.66 L930.49,1141.22 L929.44,1143.80 L928.45,1146.40 L927.51,1149.02 L926.62,1151.66 L925.80,1154.32 L925.04,1156.98 L924.34,1159.67 L923.71,1162.36 L923.14,1165.06 L922.64,1167.77 L922.21,1170.49 L921.85,1173.21 L921.56,1175.93 L921.35,1178.66 L921.22,1181.38 L921.16,1184.10 L921.18,1186.82 L921.28,1189.52 L921.47,1192.22 L921.74,1194.91 L922.09,1197.59 L922.54,1200.26 L923.07,1202.90 L923.69,1205.54 L924.41,1208.15 L925.22,1210.74 L926.13,1213.31 L927.12,1215.85 L928.21,1218.37 L929.39,1220.86 L930.65,1223.32 L932.00,1225.74 L933.43,1228.13 L934.95,1230.48 L936.54,1232.79 L938.22,1235.06 L939.97,1237.29 L941.79,1239.47 L943.69,1241.60 L945.66,1243.68 L947.70,1245.71 L949.81,1247.68 L951.99,1249.60 L954.23,1251.46 L956.53,1253.26 L958.89,1255.00 L961.30,1256.68 L963.77,1258.29 L966.28,1259.83 L968.84,1261.31 L971.44,1262.72 L974.08,1264.06 L976.75,1265.33 L979.46,1266.52 L982.20,1267.64 L984.97,1268.69 L987.76,1269.65 L990.57,1270.54 L993.40,1271.34 L996.25,1272.07 L999.11,1272.70 L1001.97,1273.26 L1004.85,1273.72 L1007.72,1274.10 L1010.60,1274.39 L1013.47,1274.58 L1016.33,1274.68 L1019.19,1274.69 L1022.03,1274.60 L1024.86,1274.41 L1027.67,1274.13 L1030.46,1273.74 L1033.23,1273.25" stroke-width="2.6" fill="none" stroke-linejoin="round"/>
<path d="M1052.29,908.81 L1052.73,911.72 L1053.19,914.61 L1053.69,917.47 L1054.21,920.31 L1054.76,923.13 L1055.33,925.92 L1055.94,928.70 L1056.57,931.46 L1057.22,934.19 L1057.91,936.91 L1058.62,939.61 L1059.35,942.29 L1060.11,944.96 L1060.90,947.60 L1061.71,950.23 L1062.55,952.84 L1063.41,955.44 L1064.30,958.02 L1065.21,960.59 L1066.15,963.14 L1067.11,965.68 L1068.10,968.21 L1069.11,970.72 L1070.14,973.22 L1071.20,975.71 L1072.28,978.19 L1073.38,980.66 L1074.51,983.11 L1075.66,985.56 L1076.83,988.00 L1078.03,990.43 L1079.25,992.85 L1080.49,995.26 L1081.75,997.66 L1083.04,1000.06 L1084.35,1002.45 L1085.68,1004.84 L1087.03,1007.22 L1088.40,1009.59 L1089.79,1011.97 L1091.20,1014.33 L1092.64,1016.70 L1094.09,1019.06 L1095.56,1021.41 L1097.06,1023.77 L1098.57,1026.12 L1100.11,1028.48 L1101.66,1030.83 L1103.23,1033.18 L1104.82,1035.54 L1106.42,1037.89 L1108.03,1040.24 L1109.65,1042.60 L1111.28,1044.96 L1112.91,1047.32 L1114.55,1049.68 L1116.18,1052.04 L1117.82,1054.41 L1119.45,1056.78 L1121.08,1059.16 L1122.70,1061.54 L1124.31,1063.92 L1125.91,1066.31 L1127.49,1068.70 L1129.06,1071.10 L1130.61,1073.51 L1132.15,1075.92 L1133.66,1078.34 L1135.15,1080.77 L1136.61,1083.20 L1138.04,1085.64 L1139.45,1088.10 L1140.82,1090.55 L1142.16,1093.02 L1143.46,1095.50 L1144.73,1097.99 L1145.95,1100.49 L1147.14,1102.99 L1148.28,1105.51 L1149.37,1108.04 L1150.41,1110.59 L1151.41,1113.14 L1152.35,1115.71 L1153.24,1118.29 L1154.07,1120.88 L1154.84,1123.49 L1155.56,1126.10 L1156.21,1128.73 L1156.80,1131.37 L1157.34,1134.01 L1157.81,1136.66 L1158.22,1139.32 L1158.56,1141.98 L1158.84,1144.64 L1159.06,1147.30 L1159.21,1149.97 L1159.30,1152.63 L1159.32,1155.28 L1159.27,1157.93 L1159.15,1160.58 L1158.96,1163.22 L1158.71,1165.84 L1158.38,1168.46 L1157.98,1171.07 L1157.51,1173.66 L1156.97,1176.24 L1156.36,1178.80 L1155.67,1181.35 L1154.90,1183.87 L1154.07,1186.38 L1153.15,1188.86 L1152.16,1191.32 L1151.09,1193.76 L1149.94,1196.17 L1148.72,1198.55 L1147.42,1200.91 L1146.04,1203.24 L1144.60,1205.54 L1143.08,1207.81 L1141.50,1210.05 L1139.85,1212.26 L1138.14,1214.44 L1136.37,1216.59 L1134.53,1218.71 L1132.64,1220.79 L1130.70,1222.84 L1128.71,1224.86 L1126.66,1226.85 L1124.56,1228.80 L1122.42,1230.72 L1120.24,1232.60 L1118.01,1234.44 L1115.74,1236.25 L1113.44,1238.03 L1111.10,1239.76 L1108.72,1241.46 L1106.32,1243.12 L1103.88,1244.74 L1101.42,1246.32 L1098.94,1247.86 L1096.43,1249.36 L1093.90,1250.82 L1091.35,1252.24 L1088.78,1253.61 L1086.20,1254.94 L1083.61,1256.23 L1081.00,1257.48 L1078.39,1258.68 L1075.78,1259.84 L1073.16,1260.95 L1070.53,1262.02 L1067.91,1263.04 L1065.29,1264.02 L1062.68,1264.94 L1060.07,1265.82 L1057.47,1266.65 L1054.88,1267.43 L1052.31,1268.17 L1049.75,1268.85" stroke-width="2.6" fill="none" stroke-linejoin="round"/>
<path d="M1063.57,825.64 L1063.82,829.22 L1064.07,832.79 L1064.34,836.36 L1064.61,839.93 L1064.90,843.49 L1065.20,847.05 L1065.51,850.61 L1065.84,854.16 L1066.19,857.71 L1066.55,861.25 L1066.92,864.79 L1067.32,868.32 L1067.73,871.84 L1068.16,875.36 L1068.62,878.87 L1069.09,882.37 L1069.59,885.87 L1070.11,889.36 L1070.66,892.84 L1071.23,896.31 L1071.82,899.77 L1072.45,903.22 L1073.10,906.67 L1073.78,910.10 L1074.49,913.53 L1075.23,916.94 L1076.00,920.34 L1076.80,923.73 L1077.64,927.11 L1078.51,930.48 L1079.42,933.84 L1080.36,937.18 L1081.34,940.51 L1082.35,943.83 L1083.41,947.14 L1084.50,950.43 L1085.64,953.70 L1086.82,956.97 L1088.04,960.21 L1089.30,963.45 L1090.60,966.66 L1091.95,969.87 L1093.35,973.05 L1094.79,976.22 L1096.29,979.37 L1097.83,982.51 L1099.41,985.63 L1101.05,988.73 L1102.73,991.82 L1104.44,994.89 L1106.20,997.95 L1107.99,1001.00 L1109.81,1004.03 L1111.67,1007.06 L1113.55,1010.08 L1115.45,1013.09 L1117.37,1016.09 L1119.32,1019.09 L1121.27,1022.08 L1123.25,1025.07 L1125.23,1028.05 L1127.21,1031.03 L1129.21,1034.02 L1131.20,1037.00 L1133.19,1039.98 L1135.18,1042.96 L1137.16,1045.95 L1139.14,1048.94 L1141.10,1051.94 L1143.04,1054.94 L1144.97,1057.95 L1146.88,1060.97 L1148.76,1064.00 L1150.62,1067.04 L1152.44,1070.08 L1154.24,1073.15 L1156.00,1076.22 L1157.73,1079.31 L1159.41,1082.41 L1161.05,1085.53 L1162.65,1088.67 L1164.20,1091.82 L1165.69,1095.00 L1167.13,1098.19 L1168.52,1101.40 L1169.84,1104.64 L1171.11,1107.89 L1172.31,1111.16 L1173.44,1114.45 L1174.50,1117.75 L1175.50,1121.06 L1176.41,1124.39 L1177.26,1127.72 L1178.02,1131.06 L1178.70,1134.41 L1179.29,1137.76 L1179.80,1141.12 L1180.22,1144.47 L1180.55,1147.83 L1180.79,1151.19 L1180.93,1154.54 L1180.97,1157.89 L1180.90,1161.24 L1180.74,1164.57 L1180.47,1167.90 L1180.09,1171.22 L1179.59,1174.52 L1178.99,1177.82 L1178.28,1181.09 L1177.47,1184.35 L1176.55,1187.59 L1175.52,1190.81 L1174.39,1194.00 L1173.16,1197.17 L1171.83,1200.31 L1170.40,1203.42 L1168.87,1206.50 L1167.25,1209.55 L1165.53,1212.56 L1163.72,1215.54 L1161.82,1218.48 L1159.82,1221.37 L1157.74,1224.23 L1155.57,1227.04 L1153.32,1229.81 L1150.99,1232.53 L1148.58,1235.20 L1146.09,1237.83 L1143.54,1240.41 L1140.92,1242.94 L1138.24,1245.42 L1135.49,1247.85 L1132.69,1250.23 L1129.84,1252.55 L1126.93,1254.82 L1123.98,1257.04 L1120.98,1259.20 L1117.94,1261.31 L1114.86,1263.35 L1111.75,1265.34 L1108.61,1267.27 L1105.44,1269.14 L1102.24,1270.95 L1099.02,1272.70 L1095.79,1274.38 L1092.54,1276.00 L1089.27,1277.56 L1086.00,1279.05 L1082.72,1280.48 L1079.45,1281.83 L1076.17,1283.12 L1072.89,1284.34 L1069.63,1285.49 L1066.37,1286.57 L1063.13,1287.57 L1059.90,1288.51 L1056.70,1289.37 L1053.52,1290.15 L1050.36,1290.86" stroke-width="2.6" fill="none" stroke-linejoin="round"/>
<rect x="1031.6" y="1304.6" width="20.200000000000045" height="5" fill="#222" stroke="none"/>
<path d="M1031.6,1308.6 L1051.8,1308.6 L1050.8,1322.6 L1049.3,1323.6 L1048.8,1336 L1034.6,1336 L1034.1,1323.6 L1032.6,1322.6 Z" fill="#222" stroke="none"/>
<rect x="1036.1999999999998" y="1313.6" width="4" height="6.5" fill="#fff" stroke="none"/>
<rect x="1041.6999999999998" y="1311.6" width="3.2" height="11" fill="#fff" stroke="none"/>
<rect x="1036.6999999999998" y="1322.1" width="11" height="1.6" fill="#fff" stroke="none"/>
<rect x="1040.8999999999999" y="1327.6" width="2.2" height="8" fill="#fff" stroke="none"/>
<path d="M1026.3,1352 L1026.3,1341 Q1026.3,1335 1032.3,1335 L1049.2,1335 Q1055.2,1335 1055.2,1341 L1055.2,1352 Z" fill="#222" stroke="none"/>
<rect x="1030.8" y="1342.5" width="8" height="3.7" fill="#fff" stroke="none"/>
<rect x="1042.7" y="1342.5" width="8" height="3.7" fill="#fff" stroke="none"/>
<rect x="1031.3" y="1338" width="18.90000000000009" height="1" fill="#fff" stroke="none"/>
<line x1="1028.60" y1="1352.00" x2="1028.60" y2="1392.00" stroke-width="2.5"/>
<line x1="1055.20" y1="1352.00" x2="1055.20" y2="1392.00" stroke-width="2.5"/>
<line x1="968.40" y1="1369.60" x2="1002.20" y2="1369.60" stroke-width="2.5"/>
<polygon points="1028.60,1369.60 1001.10,1385.35 1001.10,1353.85" fill="#222" stroke="none"/>
<polygon points="1055.20,1369.60 1082.70,1353.85 1082.70,1385.35" fill="#222" stroke="none"/>
<line x1="1084.20" y1="1369.60" x2="1108.30" y2="1369.60" stroke-width="2.5"/>
<text x="1142.50" y="1382.50" font-size="40" text-anchor="middle">G</text><text x="1176.72" y="1382.50" font-size="40" text-anchor="middle">3</text><text x="1235.30" y="1382.50" font-size="40" text-anchor="middle">8</text>
<path d="M1216.5,1354 L1197,1392" stroke-width="3.3" fill="none" />
</svg></body></html>
